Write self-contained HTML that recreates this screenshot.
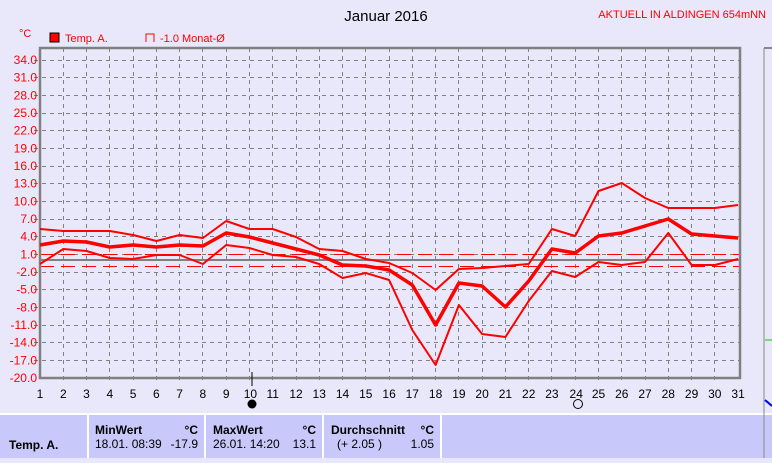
<!DOCTYPE html>
<html><head><meta charset="utf-8"><style>
body{margin:0;background:#e8e8fa;font-family:"Liberation Sans",sans-serif}
</style></head><body>
<svg width="772" height="458" xmlns="http://www.w3.org/2000/svg" font-family="Liberation Sans, sans-serif">
<rect width="772" height="458" fill="#e8e8fa"/>
<text x="386" y="21" font-size="15" text-anchor="middle" fill="#000">Januar 2016</text>
<text x="766" y="18" font-size="11" text-anchor="end" fill="#f00">AKTUELL IN ALDINGEN 654mNN</text>
<text x="19" y="37" font-size="11" fill="#f00">°C</text>
<rect x="50" y="33" width="9" height="9" fill="#f00" stroke="#000"/>
<text x="65" y="42" font-size="11" fill="#f00">Temp. A.</text>
<path d="M146 42 V34 H154 V42" fill="none" stroke="#f00"/>
<text x="160" y="42" font-size="11" fill="#f00">-1.0 Monat-Ø</text>
<path stroke="#808080" stroke-dasharray="4,4" fill="none" shape-rendering="crispEdges" d="M34 60.5H740M34 77.5H740M34 95.5H740M34 113.5H740M34 130.5H740M34 148.5H740M34 166.5H740M34 183.5H740M34 201.5H740M34 219.5H740M34 236.5H740M34 254.5H740M34 272.5H740M34 289.5H740M34 307.5H740M34 325.5H740M34 342.5H740M34 360.5H740
M63.5 48V384M86.5 48V384M109.5 48V384M133.5 48V384M156.5 48V384M179.5 48V384M202.5 48V384M226.5 48V384M249.5 48V384M272.5 48V384M296.5 48V384M319.5 48V384M342.5 48V384M365.5 48V384M389.5 48V384M412.5 48V384M435.5 48V384M458.5 48V384M482.5 48V384M505.5 48V384M528.5 48V384M551.5 48V384M575.5 48V384M598.5 48V384M621.5 48V384M645.5 48V384M668.5 48V384M691.5 48V384M714.5 48V384"/>
<line x1="40" x2="740" y1="260" y2="260" stroke="#808080" stroke-width="2" shape-rendering="crispEdges"/>
<line x1="40" x2="740" y1="254.5" y2="254.5" stroke="#f00" stroke-dasharray="14,7" shape-rendering="crispEdges"/>
<line x1="40" x2="740" y1="266.5" y2="266.5" stroke="#f00" stroke-dasharray="14,7" shape-rendering="crispEdges"/>
<rect x="40" y="48" width="700" height="330" fill="none" stroke="#808080" stroke-width="2.5"/>
<g font-size="12" fill="#f00" text-anchor="end">
<text x="37" y="64">34.0</text><text x="37" y="81.7">31.0</text><text x="37" y="99.3">28.0</text><text x="37" y="117">25.0</text><text x="37" y="134.7">22.0</text><text x="37" y="152.3">19.0</text><text x="37" y="170">16.0</text><text x="37" y="187.7">13.0</text><text x="37" y="205.3">10.0</text><text x="37" y="223">7.0</text><text x="37" y="240.7">4.0</text><text x="37" y="258.3">1.0</text><text x="37" y="276">-2.0</text><text x="37" y="293.7">-5.0</text><text x="37" y="311.3">-8.0</text><text x="37" y="329">-11.0</text><text x="37" y="346.7">-14.0</text><text x="37" y="364.3">-17.0</text><text x="37" y="382">-20.0</text>
</g>
<g font-size="12" fill="#000" text-anchor="middle">
<text x="40" y="398">1</text><text x="63.3" y="398">2</text><text x="86.5" y="398">3</text><text x="109.8" y="398">4</text><text x="133.1" y="398">5</text><text x="156.4" y="398">6</text><text x="179.6" y="398">7</text><text x="202.9" y="398">8</text><text x="226.2" y="398">9</text><text x="250.4" y="398">10</text><text x="272.7" y="398">11</text><text x="296" y="398">12</text><text x="319.2" y="398">13</text><text x="342.5" y="398">14</text><text x="365.8" y="398">15</text><text x="389.1" y="398">16</text><text x="412.3" y="398">17</text><text x="435.6" y="398">18</text><text x="458.9" y="398">19</text><text x="482.1" y="398">20</text><text x="505.4" y="398">21</text><text x="528.7" y="398">22</text><text x="551.9" y="398">23</text><text x="576.2" y="398">24</text><text x="598.5" y="398">25</text><text x="621.8" y="398">26</text><text x="645" y="398">27</text><text x="668.3" y="398">28</text><text x="691.6" y="398">29</text><text x="714.8" y="398">30</text><text x="738.1" y="398">31</text>
</g>
<g fill="none" stroke="#f00" stroke-linejoin="round">
<polyline stroke-width="2" points="40,229 63.3,231 86.5,231 109.8,231 133.1,235 156.4,241 179.6,235 202.9,238 226.2,221 249.4,229 272.7,229 296,237 319.2,249 342.5,251 365.8,259 389.1,263 412.3,273 435.6,290 458.9,269 482.1,268 505.4,266 528.7,264 551.9,229 575.2,236 598.5,191 621.8,183 645,198 668.3,208 691.6,208 714.8,208 738.1,205"/>
<polyline stroke-width="3.5" points="40,245 63.3,241 86.5,242 109.8,247 133.1,245 156.4,247 179.6,245 202.9,246 226.2,233 249.4,237 272.7,243 296,249 319.2,255 342.5,265 365.8,266 389.1,270 412.3,285 435.6,325 458.9,283 482.1,286 505.4,307 528.7,281 551.9,249 575.2,253 598.5,236 621.8,233 645,226 668.3,219 691.6,234 714.8,236 738.1,238"/>
<polyline stroke-width="2" points="40,264 63.3,249 86.5,251 109.8,258 133.1,259 156.4,255 179.6,255 202.9,264 226.2,245 249.4,248 272.7,255 296,257 319.2,264 342.5,278 365.8,273 389.1,280 412.3,330 435.6,365 458.9,305 482.1,334 505.4,337 528.7,301 551.9,271 575.2,277 598.5,262 621.8,265 645,262 668.3,233 691.6,265 714.8,265 738.1,259"/>
</g>
<line x1="252" x2="252" y1="372" y2="386" stroke="#000"/>
<circle cx="252" cy="404" r="4.5" fill="#000"/>
<circle cx="578" cy="404" r="4.5" fill="none" stroke="#000"/>
<rect x="0" y="414" width="772" height="44" fill="#c8c8fa"/>
<line x1="88" x2="88" y1="414" y2="458" stroke="#fff" stroke-width="2"/>
<line x1="205" x2="205" y1="414" y2="458" stroke="#fff" stroke-width="2"/>
<line x1="323" x2="323" y1="414" y2="458" stroke="#fff" stroke-width="2"/>
<line x1="441" x2="441" y1="414" y2="458" stroke="#fff" stroke-width="2"/>
<line x1="0" x2="772" y1="414" y2="414" stroke="#fff" stroke-width="2"/>
<g font-size="12" fill="#000">
<text x="9" y="449" font-weight="bold">Temp. A.</text>
<text x="95" y="434" font-weight="bold">MinWert</text><text x="198" y="434" text-anchor="end" font-weight="bold">°C</text>
<text x="95" y="448">18.01.  08:39</text><text x="198" y="448" text-anchor="end">-17.9</text>
<text x="213" y="434" font-weight="bold">MaxWert</text><text x="316" y="434" text-anchor="end" font-weight="bold">°C</text>
<text x="213" y="448">26.01.  14:20</text><text x="316" y="448" text-anchor="end">13.1</text>
<text x="331" y="434" font-weight="bold">Durchschnitt</text><text x="434" y="434" text-anchor="end" font-weight="bold">°C</text>
<text x="337" y="448">(+ 2.05 )</text><text x="434" y="448" text-anchor="end">1.05</text>
</g>
<line x1="764" x2="772" y1="48" y2="48" stroke="#888" stroke-width="2"/>
<line x1="764" x2="764" y1="48" y2="458" stroke="#888"/>
<line x1="765" x2="772" y1="340" y2="340" stroke="#0c0"/>
<line x1="765" x2="772" y1="400" y2="406" stroke="#00f" stroke-width="2"/>
</svg>
</body></html>
